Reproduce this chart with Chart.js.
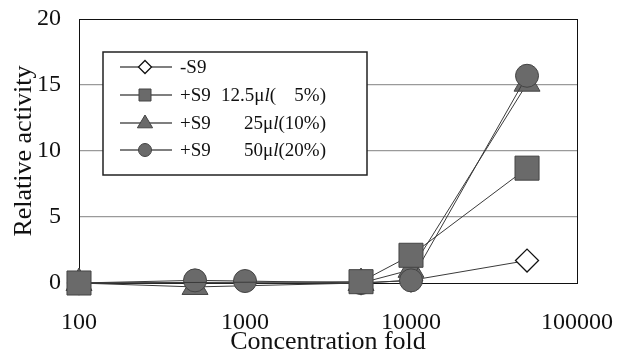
<!DOCTYPE html>
<html>
<head>
<meta charset="utf-8">
<script src="https://cdn.jsdelivr.net/npm/chart.js@4.4.1/dist/chart.umd.min.js"></script>
<style>
  html, body { margin: 0; padding: 0; background: #fff; }
  #wrap { width: 618px; height: 350px; }
</style>
</head>
<body>
<div id="wrap"><canvas id="chart"></canvas></div>
<script>
const concentrations = [100, 500, 1000, 5000, 10000, 50000];
const minusS9 = [0, null, null, 0, 0.2, 1.7];
const s9_12_5 = [0, null, null, 0.1, 2.1, 8.7];
const s9_25 = [0, -0.3, null, 0, 1.0, 15.1];
const s9_50 = [0, 0.2, 0.15, 0, 0.2, 15.7];
const xTicks = [100, 1000, 10000, 100000];

const SERIF = "'Liberation Serif', 'DejaVu Serif', serif";
const MARK = "#6a6a6a";
const LINE = "#3a3a3a";

function pts(values) {
    return concentrations.map((x, i) => ({ x: x, y: values[i] }));
}

// Frame round the plot area
const framePlugin = {
    id: "frame",
    beforeDatasetsDraw(chart) {
        const a = chart.chartArea;
        const ctx = chart.ctx;
        ctx.save();
        ctx.strokeStyle = "#111";
        ctx.lineWidth = 1;
        ctx.strokeRect(Math.round(a.left) + 0.5, Math.round(a.top) + 0.5,
            Math.round(a.right - a.left), Math.round(a.bottom - a.top));
        ctx.restore();
    }
};

// Legend box drawn inside the plot, Excel style
function drawMarker(ctx, kind, cx, cy, r) {
    ctx.beginPath();
    if (kind === "diamond") {
        ctx.moveTo(cx, cy - r); ctx.lineTo(cx + r, cy); ctx.lineTo(cx, cy + r); ctx.lineTo(cx - r, cy);
        ctx.closePath();
        ctx.fillStyle = "#fff";
    } else if (kind === "square") {
        ctx.rect(cx - r, cy - r, 2 * r, 2 * r);
        ctx.fillStyle = MARK;
    } else if (kind === "triangle") {
        ctx.moveTo(cx, cy - r); ctx.lineTo(cx + r * 0.95, cy + r * 0.6); ctx.lineTo(cx - r * 0.95, cy + r * 0.6);
        ctx.closePath();
        ctx.fillStyle = MARK;
    } else {
        ctx.arc(cx, cy, r, 0, Math.PI * 2);
        ctx.fillStyle = MARK;
    }
    ctx.fill();
    ctx.strokeStyle = kind === "diamond" ? "#111" : "#444";
    ctx.lineWidth = kind === "diamond" ? 1.3 : 1;
    ctx.stroke();
}

function segWidth(ctx, segs) {
    let w = 0;
    segs.forEach(s => {
        ctx.font = (s.it ? "italic " : "") + "19px " + SERIF;
        w += ctx.measureText(s.t).width;
    });
    return w;
}

function drawSegs(ctx, segs, x, y) {
    segs.forEach(s => {
        ctx.font = (s.it ? "italic " : "") + "19px " + SERIF;
        ctx.fillText(s.t, x, y);
        x += ctx.measureText(s.t).width;
    });
}

const legendRows = [
    { kind: "diamond", r: 6.5, y: 67, left: [{ t: "-S9" }], right: [] },
    { kind: "square", r: 6, y: 95, left: [{ t: "+S9" }], mid: [{ t: "12.5\u03bc" }, { t: "l", it: true }, { t: "(" }], right: [{ t: "5%)" }] },
    { kind: "triangle", r: 8, y: 123, left: [{ t: "+S9" }], right: [{ t: "25\u03bc" }, { t: "l", it: true }, { t: "(10%)" }] },
    { kind: "circle", r: 6.5, y: 150, left: [{ t: "+S9" }], right: [{ t: "50\u03bc" }, { t: "l", it: true }, { t: "(20%)" }] }
];

const legendPlugin = {
    id: "boxLegend",
    afterDraw(chart) {
        const ctx = chart.ctx;
        ctx.save();
        ctx.fillStyle = "#fff";
        ctx.fillRect(103, 52, 264, 123);
        ctx.strokeStyle = "#222";
        ctx.lineWidth = 1.5;
        ctx.strokeRect(103, 52, 264, 123);

        legendRows.forEach(row => {
            ctx.strokeStyle = "#555";
            ctx.lineWidth = 1.5;
            ctx.beginPath();
            ctx.moveTo(120, row.y);
            ctx.lineTo(172, row.y);
            ctx.stroke();
            drawMarker(ctx, row.kind, 145, row.y, row.r);

            ctx.fillStyle = "#111";
            ctx.textBaseline = "middle";
            ctx.textAlign = "left";
            drawSegs(ctx, row.left, 180, row.y + 1);
            if (row.mid) drawSegs(ctx, row.mid, 221, row.y + 1);
            if (row.right.length) drawSegs(ctx, row.right, 326 - segWidth(ctx, row.right), row.y + 1);
        });
        ctx.restore();
    }
};

function series(label, values, style, order) {
    return Object.assign({
        label: label,
        data: pts(values),
        borderColor: LINE,
        borderWidth: 1,
        backgroundColor: MARK,
        pointBorderColor: "#444",
        pointBorderWidth: 1,
        spanGaps: true,
        clip: false,
        order: order
    }, style);
}

const ctx = document.getElementById("chart").getContext("2d");
new Chart(ctx, {
    type: "line",
    data: {
        datasets: [
            series("-S9", minusS9, { pointStyle: "rectRot", pointRadius: 11.5, backgroundColor: "#fff", pointBorderColor: "#111", pointBorderWidth: 1.3 }, 4),
            series("+S9 12.5\u03bcl( 5%)", s9_12_5, { pointStyle: "rect", pointRadius: 17 }, 1),
            series("+S9 25\u03bcl(10%)", s9_25, { pointStyle: "triangle", pointRadius: 15 }, 3),
            series("+S9 50\u03bcl(20%)", s9_50, { pointStyle: "circle", pointRadius: 11.5 }, 2)
        ]
    },
    options: {
        responsive: true,
        maintainAspectRatio: false,
        animation: false,
        layout: { padding: { top: 19, right: 41, left: 0, bottom: 0 } },
        plugins: {
            legend: { display: false },
            tooltip: { enabled: false }
        },
        scales: {
            x: {
                type: "logarithmic",
                min: 100,
                max: 100000,
                afterBuildTicks: s => { s.ticks = xTicks.map(v => ({ value: v })); },
                afterFit: s => { s.height = 67; s.paddingLeft = 0; s.paddingRight = 0; },
                grid: { display: false, drawTicks: false },
                border: { display: false },
                ticks: {
                    color: "#111",
                    padding: 25,
                    maxRotation: 0,
                    autoSkip: false,
                    font: { family: SERIF, size: 24 },
                    callback: v => String(v)
                },
                title: {
                    display: true,
                    text: "Concentration fold",
                    color: "#111",
                    font: { family: SERIF, size: 26, lineHeight: 0.6 },
                    padding: 0
                }
            },
            y: {
                min: 0,
                max: 20,
                afterFit: s => { s.width = 79; s.paddingTop = 0; s.paddingBottom = 0; },
                grid: {
                    drawTicks: false,
                    lineWidth: 1.2,
                    color: c => (c.tick && c.tick.value > 0 && c.tick.value < 20) ? "#9a9a9a" : "transparent"
                },
                border: { display: false },
                ticks: {
                    stepSize: 5,
                    color: "#111",
                    padding: 18,
                    font: { family: SERIF, size: 24 }
                },
                title: {
                    display: true,
                    text: "Relative activity",
                    color: "#111",
                    font: { family: SERIF, size: 26 },
                    padding: { top: 9, bottom: 0 }
                }
            }
        }
    },
    plugins: [framePlugin, legendPlugin]
});
</script>
</body>
</html>
